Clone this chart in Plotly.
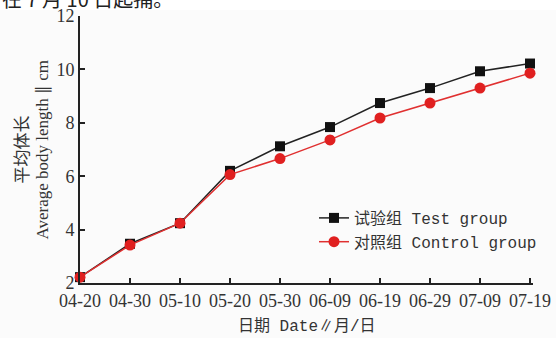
import plotly.graph_objects as go

dates = ["04-20", "04-30", "05-10", "05-20", "05-30", "06-09", "06-19", "06-29", "07-09", "07-19"]
test_vals = [2.22, 3.47, 4.24, 6.2, 7.12, 7.84, 8.74, 9.3, 9.93, 10.22]
control_vals = [2.22, 3.42, 4.24, 6.06, 6.66, 7.36, 8.18, 8.74, 9.3, 9.86]
test_err = [0.05, 0.15, 0.08, 0.12, 0.08, 0.08, 0.08, 0.08, 0.08, 0.08]
control_err = [0.05, 0.12, 0.08, 0.1, 0.08, 0.15, 0.08, 0.08, 0.12, 0.08]
y_ticks = [2, 4, 6, 8, 10, 12]

tick_font = dict(family="Liberation Serif, Noto Sans CJK SC", size=18, color="#333")
label_font = dict(family="Liberation Mono, Noto Sans CJK SC", size=16, color="#333")

fig = go.Figure()
fig.add_trace(go.Scatter(
    x=list(range(len(dates))), y=test_vals, mode="lines+markers",
    name="试验组 Test group",
    line=dict(color="#222", width=1.5),
    marker=dict(symbol="square", size=10, color="#111"),
    error_y=dict(type="data", array=test_err, color="#999", thickness=1, width=3),
    cliponaxis=False,
))
fig.add_trace(go.Scatter(
    x=list(range(len(dates))), y=control_vals, mode="lines+markers",
    name="对照组 Control group",
    line=dict(color="#e03030", width=1.5),
    marker=dict(symbol="circle", size=11, color="#e02020"),
    error_y=dict(type="data", array=control_err, color="#999", thickness=1, width=3),
    cliponaxis=False,
))

PH = 267
PW = 453
fig.update_layout(
    width=556, height=338,
    margin=dict(l=80, r=23, t=16, b=55),
    paper_bgcolor="#fbfbfb", plot_bgcolor="#fbfbfb",
    showlegend=True,
    legend=dict(x=(314 - 80) / PW, y=(283 - 201) / PH, xanchor="left", yanchor="top",
                bgcolor="rgba(0,0,0,0)", font=label_font, tracegroupgap=0,
                itemwidth=30),
    xaxis=dict(
        range=[0, 9.06], tickmode="array", tickvals=list(range(len(dates))), ticktext=dates,
        showgrid=False, zeroline=False, showline=True, linecolor="#222", linewidth=2,
        ticks="inside", ticklen=5, tickwidth=1.5, tickcolor="#222", tickfont=tick_font,
        mirror=False, automargin=False,
    ),
    yaxis=dict(
        range=[2, 12], tickvals=y_ticks, showgrid=False, zeroline=False,
        showline=True, linecolor="#222", linewidth=2,
        ticks="inside", ticklen=5, tickwidth=1.5, tickcolor="#222", tickfont=tick_font,
        automargin=False,
    ),
    shapes=[dict(type="rect", xref="paper", yref="paper", x0=-0.2, x1=1.1,
                 y0=1 + 6 / PH, y1=1 + 20 / PH, fillcolor="white", line=dict(width=0),
                 layer="below")],
    annotations=[
        dict(text="日期 Date∥月/日", xref="paper", yref="paper", x=(307 - 80) / PW,
             y=-(326 - 283) / PH, xanchor="center", yanchor="middle", showarrow=False,
             font=label_font),
        dict(text="平均体长", xref="paper", yref="paper", x=-(80 - 20) / PW, y=0.5,
             textangle=-90, xanchor="center", yanchor="middle", showarrow=False,
             font=dict(family="Noto Sans CJK SC", size=17, color="#333")),
        dict(text="Average body length ∥ cm", xref="paper", yref="paper", x=-(80 - 42) / PW,
             y=0.5, textangle=-90, xanchor="center", yanchor="middle", showarrow=False,
             font=dict(family="Liberation Serif", size=17, color="#333")),
        dict(text="在 7 月 10 日起捕。", xref="paper", yref="paper", x=-80 / PW,
             y=1 + 18 / PH, xanchor="left", yanchor="middle", showarrow=False,
             font=dict(family="Noto Sans CJK SC, Liberation Serif", size=20, color="#222")),
    ],
)

fig.write_html("out.html", post_script="document.body.style.margin='0';",
               config={"displayModeBar": False})
